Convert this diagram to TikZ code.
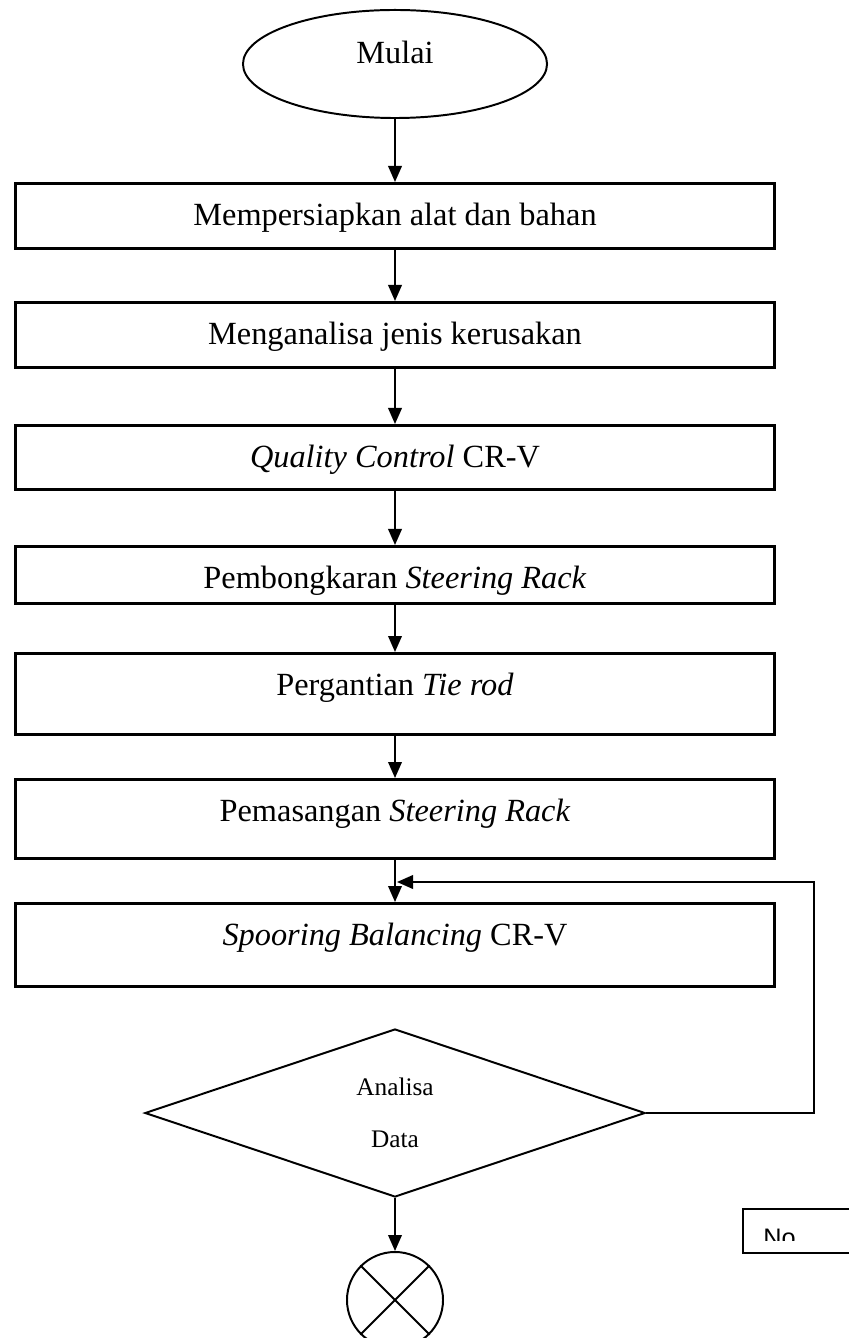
\documentclass[tikz,border=0pt]{standalone}
\usepackage{fontspec}
\setmainfont{Liberation Serif}
\newfontfamily\notefont{Liberation Sans}
\usetikzlibrary{arrows.meta,shapes.geometric}

\begin{document}
\begin{tikzpicture}[
    x=0.025cm, y=-0.025cm,
    font=\fontsize{23}{27}\selectfont,
    terminal/.style={draw, ellipse, line width=1.4pt, minimum width=7.6cm,
        minimum height=2.7cm, inner sep=0pt, text height=0.5cm, text depth=0.5cm},
    process/.style={draw, line width=2pt, minimum width=18.95cm, anchor=north,
        inner sep=0pt, text height=1.05cm},
    decision/.style={draw, diamond, line width=1.4pt, minimum width=12.5cm,
        minimum height=4.2cm, inner sep=0pt, align=center,
        font=\fontsize{18}{37}\selectfont},
    connector/.style={draw, circle, line width=1.4pt, minimum size=2.4cm, inner sep=0pt},
    note/.style={draw, line width=1.2pt, anchor=north west, minimum width=3cm,
        minimum height=1.1cm, inner sep=0pt},
    flow/.style={-{Triangle[length=4mm, width=3.4mm]}, line width=1.3pt},
]
    \useasboundingbox (0,0) rectangle (848,1338);

    \node[terminal] (start) at (395,64) {Mulai};
    \node[process, text depth=0.575cm] (prep) at (395,182) {Mempersiapkan alat dan bahan};
    \node[process, text depth=0.575cm] (analyze) at (395,301) {Menganalisa jenis kerusakan};
    \node[process, text depth=0.55cm] (qc) at (395,424) {\textit{Quality Control} CR-V};
    \node[process, text depth=0.375cm] (dismantle) at (395,545) {Pembongkaran \textit{Steering Rack}};
    \node[process, text depth=0.975cm] (tierod) at (395,652) {Pergantian \textit{Tie rod}};
    \node[process, text depth=0.925cm] (mount) at (395,778) {Pemasangan \textit{Steering Rack}};
    \node[process, text depth=1.025cm] (spooring) at (395,902) {\textit{Spooring Balancing} CR-V};
    \node[decision] (check) at (395,1113) {Analisa\\Data};
    \node[connector] (finish) at (395,1300) {};
    \draw[line width=1.4pt] (finish.north west) -- (finish.south east)
        (finish.north east) -- (finish.south west);

    \draw[flow] (start) -- (prep);
    \draw[flow] (prep) -- (analyze);
    \draw[flow] (analyze) -- (qc);
    \draw[flow] (qc) -- (dismantle);
    \draw[flow] (dismantle) -- (tierod);
    \draw[flow] (tierod) -- (mount);
    \draw[flow] (mount) -- (spooring);
    \draw[flow] (check.south) -- (finish.north);

    % back to spooring
    \coordinate (merge) at (397,882);
    \draw[flow] (check.east) -- ++(168,0) |- (merge);

    \node[note] (nobox) at (742,1208) {};
    \begin{scope}
        \clip (744,1210) rectangle (848,1240);
        \node[anchor=base west, inner sep=0pt, font=\notefont\fontsize{18}{20}\selectfont]
            (nolabel) at (763,1246) {No};
    \end{scope}
\end{tikzpicture}
\end{document}
